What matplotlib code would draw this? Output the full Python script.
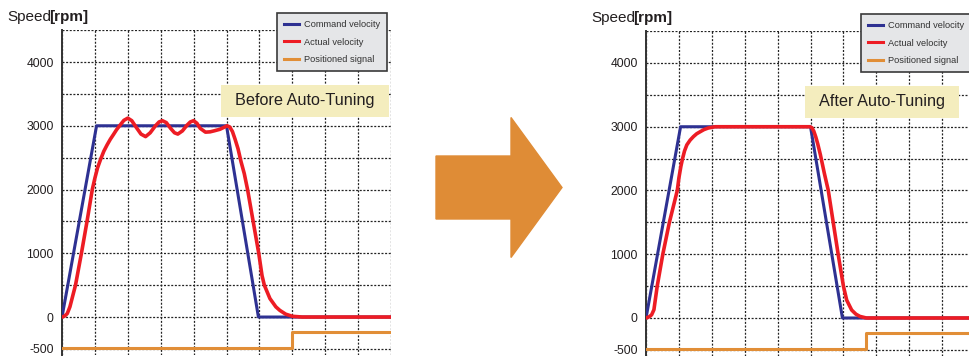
import matplotlib
matplotlib.use('Agg')
import matplotlib.pyplot as plt
import matplotlib.patches as mpatches
import numpy as np

plt.rcParams['font.family'] = ['Liberation Sans', 'DejaVu Sans']

# command velocity (same for both panels)
command_t = [0, 1.05, 5.0, 5.97, 10]
command_v = [0, 3000, 3000, 0, 0]

# actual velocity before auto-tuning
before_t = [0, 0.08, 0.16, 0.24, 0.41, 0.59, 0.76, 0.92, 1.0, 1.08, 1.17, 1.27, 1.37, 1.47,
            1.56, 1.66, 1.75, 1.88, 2.0, 2.12, 2.25, 2.4, 2.54, 2.68, 2.84, 2.95, 3.05,
            3.17, 3.3, 3.42, 3.52, 3.66, 3.8, 3.9, 4.0, 4.1, 4.2, 4.36, 4.5, 4.62, 4.8,
            4.92, 5.02, 5.1, 5.18, 5.26, 5.35, 5.44, 5.54, 5.64, 5.81, 5.98, 6.08, 6.15, 6.32,
            6.5, 6.62, 6.8, 7.0, 7.3, 10]
before_v = [0, 15, 55, 160, 500, 1000, 1500, 2000, 2180, 2340, 2470, 2600, 2700, 2790,
            2860, 2940, 3000, 3085, 3120, 3080, 2980, 2870, 2830, 2890, 3000, 3060, 3080,
            3050, 2960, 2890, 2870, 2920, 3010, 3060, 3080, 3040, 2960, 2900, 2905, 2920, 2945,
            2975, 3000, 2980, 2910, 2790, 2640, 2440, 2250, 2000, 1500, 1000, 650, 500, 290,
            160, 105, 45, 12, 0, 0]

# actual velocity after auto-tuning
after_t = [0, 0.1, 0.17, 0.24, 0.34, 0.51, 0.71, 0.95, 1.0, 1.06, 1.11, 1.17, 1.24, 1.34,
           1.44, 1.54, 1.64, 1.76, 1.89, 2.1, 4.98, 5.04, 5.1, 5.16, 5.22, 5.3, 5.42, 5.54,
           5.69, 5.84, 6.0, 6.1, 6.25, 6.38, 6.5, 6.7, 10]
after_v = [0, 20, 50, 130, 500, 1000, 1500, 2000, 2200, 2380, 2500, 2620, 2715, 2790,
           2845, 2890, 2920, 2955, 2980, 3000, 3000, 2985, 2930, 2840, 2730, 2560, 2270, 2000,
           1500, 1000, 500, 280, 125, 60, 25, 0, 0]

# positioned signal (step)
before_pos_t = [0, 7.0, 10]
after_pos_t = [0, 6.68, 10]
pos_v = [-490, -235, -235]

ytick_vals = [-500, 0, 1000, 2000, 3000, 4000]
labels = ['Command velocity', 'Actual velocity', 'Positioned signal']
titles = ['Before Auto-Tuning', 'After Auto-Tuning']

blue = '#2e3192'
red = '#ed1c24'
orange = '#e18e37'
txt = '#231f20'

fig = plt.figure(figsize=(9.69, 3.56), dpi=100)
ax1 = fig.add_axes([0.064, 0.002, 0.3395, 0.9133])
ax2 = fig.add_axes([0.6667, -0.0007, 0.3395, 0.9133])


def draw(ax, actual_t, actual_v, pos_t, title, box_right):
    ax.plot(pos_t, pos_v, color=orange, lw=2.2, drawstyle='steps-post', zorder=3)
    ax.plot(command_t, command_v, color=blue, lw=2.2, zorder=4)
    ax.plot(actual_t, actual_v, color=red, lw=2.6, zorder=5)

    ax.set_xlim(0, 10)
    ax.set_ylim(-600, 4500)
    ax.set_xticks(np.arange(0, 11, 1))
    ax.set_xticklabels([])
    yt = np.arange(-500, 4501, 500)
    ax.set_yticks(yt)
    ax.set_yticklabels([str(v) if v in ytick_vals else '' for v in yt])
    ax.tick_params(length=0, pad=6, labelsize=8.7, labelcolor=txt)
    ax.grid(True, color='#222222', lw=0.9, linestyle=(0, (1.6, 1.3)))
    ax.set_axisbelow(True)
    for s in ['top', 'right', 'bottom']:
        ax.spines[s].set_visible(False)
    ax.spines['left'].set_color('#333333')
    ax.spines['left'].set_linewidth(1.4)

    # speed label above the axis
    ax.text(-0.165, 1.02, 'Speed', transform=ax.transAxes, fontsize=11, color=txt,
            va='bottom', ha='left')
    ax.text(-0.165 + 0.127, 1.02, '[rpm]', transform=ax.transAxes, fontsize=11,
            color=txt, va='bottom', ha='left', fontweight='bold')

    # yellow title box
    ax.add_patch(mpatches.Rectangle((4.83, 3137), box_right - 4.83, 500, facecolor='#f4edbe',
                                    edgecolor='none', zorder=6))
    ax.text((4.83 + box_right) / 2, 3390, title, fontsize=11.7, color=txt,
            ha='center', va='center', zorder=7)

    handles = [plt.Line2D([], [], color=c, lw=2.2) for c in [blue, red, orange]]
    leg = ax.legend(handles, labels, loc='upper left', bbox_to_anchor=(0.653, 1.052),
                    fontsize=6.7, frameon=True, fancybox=False, framealpha=1,
                    facecolor='#e5e6e8', edgecolor='#3a3a3a', borderpad=0.75,
                    labelspacing=0.9, handlelength=1.65, handletextpad=0.55,
                    borderaxespad=0)
    leg.get_frame().set_linewidth(1.2)
    for t in leg.get_texts():
        t.set_color('#333333')
    leg.set_zorder(8)


draw(ax1, before_t, before_v, before_pos_t, titles[0], 9.94)
draw(ax2, after_t, after_v, after_pos_t, titles[1], 9.51)

# big orange arrow between the panels
arrow = mpatches.FancyArrow(4.36, 1.685, 1.26, 0, width=0.63, head_width=1.40,
                            head_length=0.51, length_includes_head=True,
                            color='#df8c36', transform=fig.dpi_scale_trans)
fig.add_artist(arrow)

fig.savefig('out.png', dpi=100)
